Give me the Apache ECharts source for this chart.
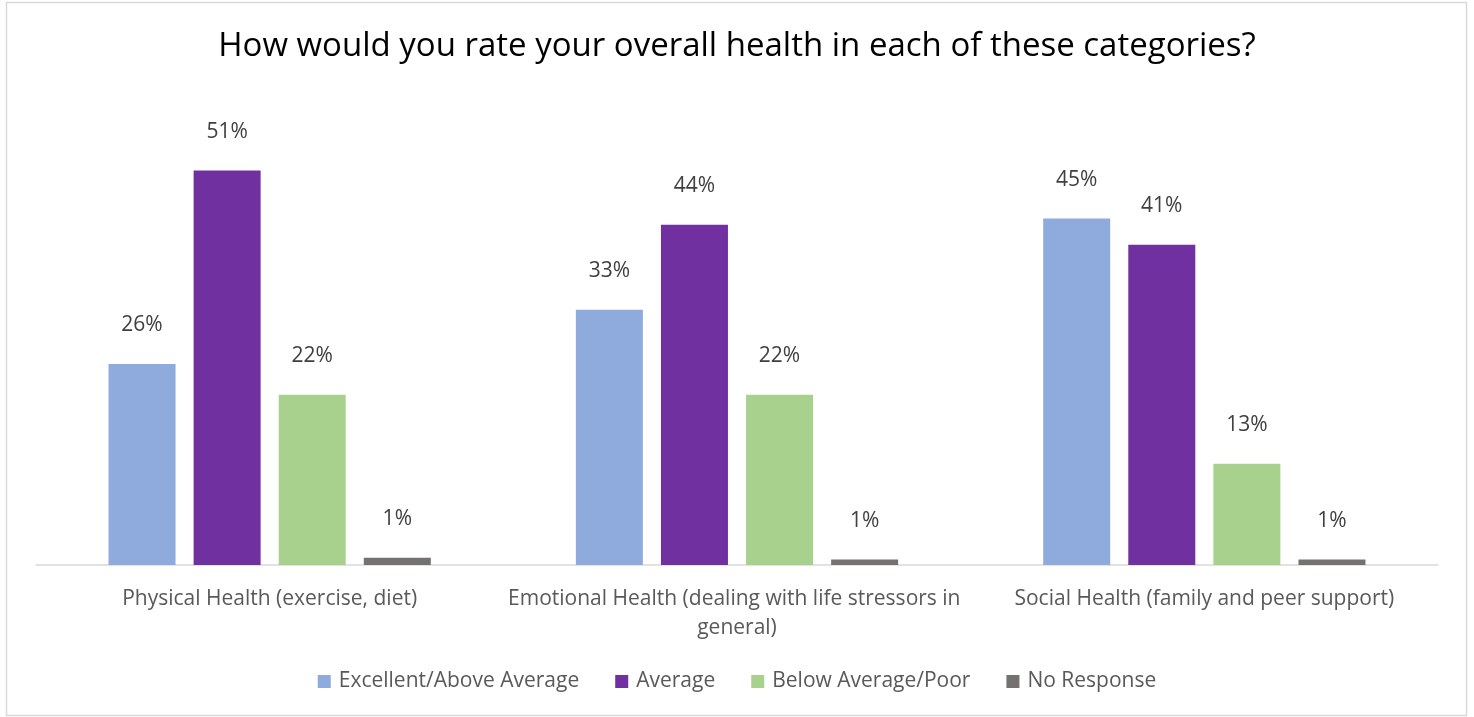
<!DOCTYPE html>
<html><head><meta charset="utf-8">
<script src="https://cdn.jsdelivr.net/npm/echarts@6/dist/echarts.min.js"></script>
<style>html,body{margin:0;padding:0;background:#fff}#c{width:1474px;height:717px}</style>
</head><body><div id="c"></div>
<script>
const titleText = 'How would you rate your overall health in each of these categories?';
const categories = ['Physical Health (exercise, diet)', 'Emotional Health (dealing with life stressors in general)', 'Social Health (family and peer support)'];
const seriesNames = ['Excellent/Above Average', 'Average', 'Below Average/Poor', 'No Response'];
const excellent = [26, 33, 44.8];
const average = [51, 44, 41.4];
const belowAverage = [22, 22, 13.1];
const noResponse = [0.95, 0.7, 0.7];
const colors = ['#8faadc', '#7030a0', '#a9d18e', '#767171'];
const values = [excellent, average, belowAverage, noResponse];
const FONT = 'Open Sans';

const chart = echarts.init(document.getElementById('c'), null, {renderer: 'canvas'});
chart.setOption({
  animation: false,
  backgroundColor: '#fff',
  textStyle: {fontFamily: FONT},
  title: {text: titleText, left: 'center', top: 25,
    textStyle: {fontFamily: FONT, fontSize: 33, fontWeight: 'normal', color: '#000'}},
  legend: {bottom: 20, left: 'center', itemWidth: 13, itemHeight: 13, itemGap: 36,
    icon: 'rect', textStyle: {fontFamily: FONT, fontSize: 21, color: '#595959', padding: [0, 0, 0, 3]}},
  grid: {left: 36, right: 36, top: 101, bottom: 152, containLabel: false},
  xAxis: {type: 'category', data: categories,
    axisLine: {lineStyle: {color: '#d9d9d9', width: 1.5}}, axisTick: {show: false},
    axisLabel: {interval: 0, margin: 20, fontFamily: FONT, fontSize: 21, color: '#595959',
      width: 466, overflow: 'break', lineHeight: 29}},
  yAxis: {type: 'value', min: 0, max: 60, show: false, splitLine: {show: false}},
  graphic: [{type: 'rect', shape: {x: 6.5, y: 2.5, width: 1460, height: 713},
    style: {fill: 'none', stroke: '#d9d9d9', lineWidth: 1.5}, silent: true}],
  series: seriesNames.map((n, i) => ({
    name: n, type: 'bar', data: values[i], barWidth: 67, barGap: '27%',
    itemStyle: {color: colors[i]},
    label: {show: true, position: 'top', distance: 28, fontFamily: FONT, fontSize: 21, color: '#404040',
      formatter: p => Math.max(1, Math.round(p.value)) + '%'}
  }))
});
</script></body></html>
